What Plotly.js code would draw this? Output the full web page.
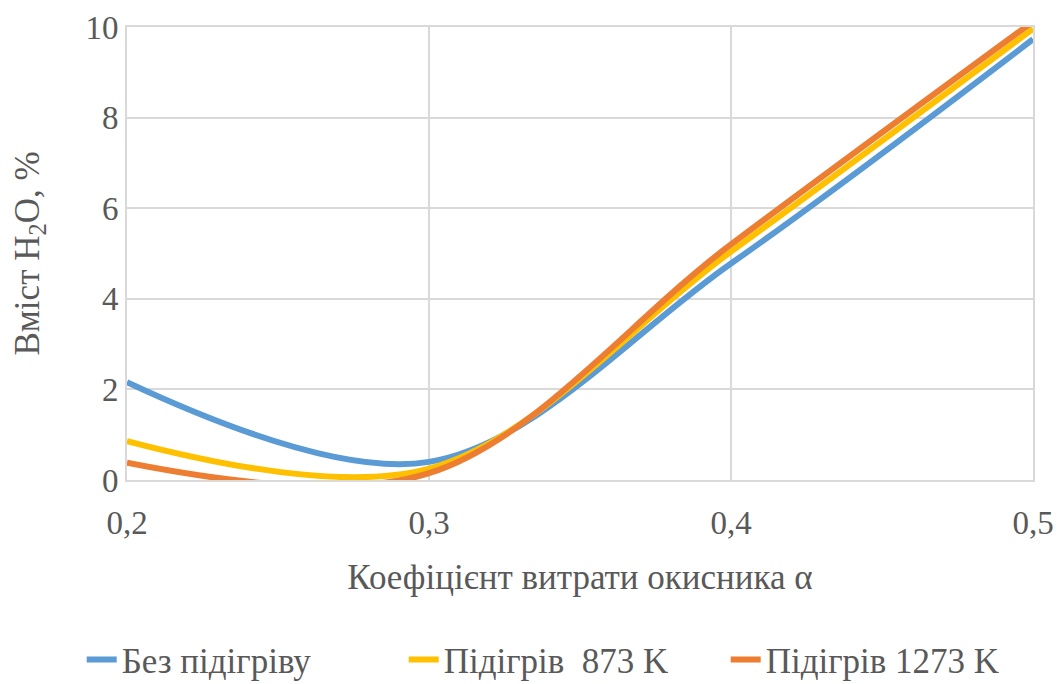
<!DOCTYPE html>
<html>
<head>
<meta charset="utf-8">
<script src="https://cdn.plot.ly/plotly-3.0.1.min.js"></script>
<style>
  html, body { margin: 0; padding: 0; background: #ffffff; }
  #chart { width: 1062px; height: 684px; }
</style>
</head>
<body>
<div id="chart"></div>
<script>
// Oxidiser excess ratio α
const alpha = [0.2, 0.3, 0.4, 0.5];

// H2O content, %
const noPreheat = [2.16, 0.40, 4.78, 9.73];
const preheat873 = [0.86, 0.25, 5.04, 9.96];
const preheat1273 = [0.38, 0.15, 5.20, 10.12];

const seriesNames = ['Без підігріву', 'Підігрів  873 K', 'Підігрів 1273 K'];
const seriesColors = ['#5B9BD5', '#FFC000', '#ED7D31'];
const seriesValues = [noPreheat, preheat873, preheat1273];

const xTicks = [0.2, 0.3, 0.4, 0.5];
const xTickText = ['0,2', '0,3', '0,4', '0,5'];
const yTicks = [0, 2, 4, 6, 8, 10];

const textColor = '#595959';
const gridColor = '#d9d9d9';
const font = "'Liberation Serif', 'Times New Roman', serif";

const traces = seriesValues.map((vals, i) => ({
  x: alpha,
  y: vals,
  name: seriesNames[i],
  type: 'scatter',
  mode: 'lines',
  line: { color: seriesColors[i], width: 6, shape: 'spline', smoothing: 1 },
  hoverinfo: 'skip'
}));

const layout = {
  width: 1062,
  height: 684,
  margin: { l: 127, r: 29, t: 27, b: 204, autoexpand: false },
  paper_bgcolor: '#ffffff',
  plot_bgcolor: '#ffffff',
  font: { family: font, color: textColor, size: 33 },
  showlegend: true,
  legend: {
    orientation: 'h',
    x: -0.05, xanchor: 'left',
    y: -0.397, yanchor: 'middle',
    entrywidth: 277,
    entrywidthmode: 'pixels',
    font: { family: font, color: textColor, size: 35 },
    traceorder: 'normal'
  },
  xaxis: {
    range: [0.2, 0.5],
    tickvals: xTicks,
    ticktext: xTickText,
    showgrid: true,
    gridcolor: gridColor,
    gridwidth: 2,
    zeroline: false,
    showline: true,
    linecolor: gridColor,
    linewidth: 2,
    mirror: true,
    ticks: 'outside',
    ticklen: 12,
    tickcolor: 'rgba(0,0,0,0)',
    tickfont: { family: font, color: textColor, size: 33 },
    title: { text: 'Коефіцієнт витрати окисника α', font: { family: font, color: textColor, size: 35 }, standoff: 25 },
    fixedrange: true
  },
  yaxis: {
    range: [0, 10],
    tickvals: yTicks,
    showgrid: true,
    gridcolor: gridColor,
    gridwidth: 2,
    zeroline: false,
    showline: true,
    linecolor: gridColor,
    linewidth: 2,
    mirror: true,
    ticks: '',
    tickfont: { family: font, color: textColor, size: 33 },
    title: { text: 'Вміст H<sub>2</sub>O, %', font: { family: font, color: textColor, size: 35 }, standoff: 35 },
    fixedrange: true
  }
};

Plotly.newPlot('chart', traces, layout, { staticPlot: true, displayModeBar: false });
</script>
</body>
</html>
